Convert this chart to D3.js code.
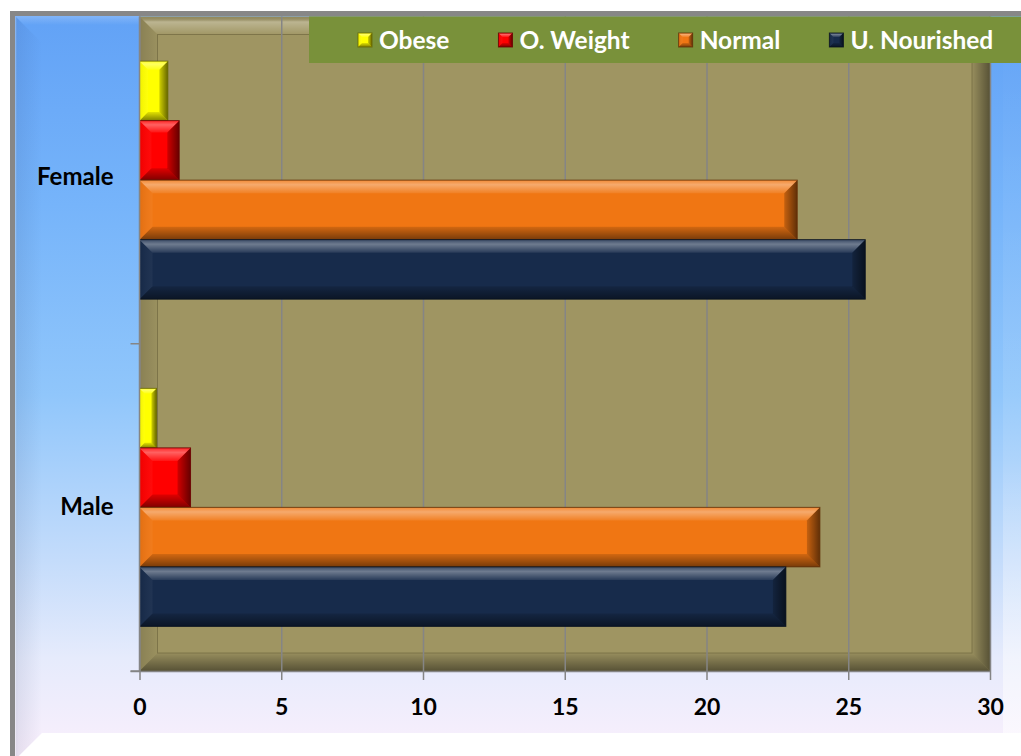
<!DOCTYPE html>
<html>
<head>
<meta charset="utf-8">
<script src="https://cdn.jsdelivr.net/npm/d3@7"></script>
<style>
  html, body { margin: 0; padding: 0; background: #ffffff; }
  svg { display: block; }
  text { font-family: Lato, "Open Sans", sans-serif; font-weight: 700; }
</style>
</head>
<body>
<svg id="chart" width="1021" height="756"></svg>
<script>
// Nutritional status by gender
const categories = ["Female", "Male"];
const seriesNames = ["Obese", "O. Weight", "Normal", "U. Nourished"];
const obese = [1.0, 0.6];
const overWeight = [1.4, 1.8];
const normal = [23.2, 24.0];
const underNourished = [25.6, 22.8];
const seriesColors = ["#ffff00", "#ff0000", "#f07613", "#172b4b"];
const xTicks = [0, 5, 10, 15, 20, 25, 30];

const seriesValues = [obese, overWeight, normal, underNourished];
const rows = categories.map((c, i) => ({
  category: c,
  values: seriesNames.map((s, j) => ({ series: s, value: seriesValues[j][i], color: seriesColors[j] }))
}));

const W = 1021, H = 756;
const plot = { left: 139.5, right: 990, top: 16.5, bottom: 671 };

const svg = d3.select("#chart");
const defs = svg.append("defs");

function linGrad(id, horizontal, stops) {
  const g = defs.append("linearGradient").attr("id", id)
    .attr("x1", 0).attr("y1", 0)
    .attr("x2", horizontal ? 1 : 0).attr("y2", horizontal ? 0 : 1);
  stops.forEach(s => g.append("stop").attr("offset", s[0])
    .attr("stop-color", s[1]).attr("stop-opacity", s[2]));
}

// chart area background
linGrad("bgGrad", false, [
  [0, "#62a2f6", 1], [0.25, "#76b4fa", 1], [0.5, "#90c6fb", 1],
  [0.72, "#c4dcfb", 1], [0.85, "#e6ebfc", 1], [1, "#fdf0fc", 1]
]);
linGrad("bgLeft", true, [[0, "#ffffff", 0.35], [0.1, "#203060", 0.09], [1, "#203060", 0]]);
linGrad("bgTop", false, [[0, "#ffffff", 0.2], [1, "#ffffff", 0]]);
linGrad("bgRight", false, [[0, "#ffffff", 0], [0.6, "#ffffff", 0.1], [1, "#ffffff", 0.6]]);

// plot frame bevel overlays
linGrad("pfTop", false, [[0, "#000000", 0.06], [0.3, "#ffffff", 0.3], [1, "#ffffff", 0.02]]);
linGrad("pfLeft", true, [[0, "#000000", 0.14], [1, "#000000", 0.03]]);
linGrad("pfRight", true, [[0, "#000000", 0.05], [1, "#000000", 0.45]]);
linGrad("pfBottom", false, [[0, "#000000", 0.05], [1, "#000000", 0.45]]);

// bar bevel overlays
linGrad("bTop", false, [[0, "#ffffff", 0.15], [0.35, "#ffffff", 0.38], [1, "#ffffff", 0.08]]);
linGrad("bBottom", false, [[0, "#000000", 0.12], [1, "#000000", 0.5]]);
linGrad("bLeft", true, [[0, "#000000", 0.06], [1, "#ffffff", 0.04]]);
linGrad("bRight", true, [[0, "#000000", 0.18], [1, "#000000", 0.6]]);

function bevelShape(g, x, y, w, h, b, fills) {
  const pts = {
    top: [[x, y], [x + w, y], [x + w - b, y + b], [x + b, y + b]],
    bottom: [[x, y + h], [x + b, y + h - b], [x + w - b, y + h - b], [x + w, y + h]],
    left: [[x, y], [x + b, y + b], [x + b, y + h - b], [x, y + h]],
    right: [[x + w, y], [x + w, y + h], [x + w - b, y + h - b], [x + w - b, y + b]]
  };
  Object.keys(fills).forEach(k => {
    g.append("polygon").attr("points", pts[k].map(p => p.join(",")).join(" "))
      .attr("fill", fills[k]);
  });
}

function bevelBar(g, x, y, w, h, color, bMax) {
  if (w <= 0) return;
  const b = Math.max(0, Math.min(bMax, w * 0.3, h * 0.3));
  g.append("rect").attr("x", x).attr("y", y).attr("width", w).attr("height", h).attr("fill", color);
  bevelShape(g, x, y, w, h, b, {
    left: "url(#bLeft)", top: "url(#bTop)", bottom: "url(#bBottom)", right: "url(#bRight)"
  });
  g.append("rect").attr("x", x).attr("y", y).attr("width", w).attr("height", h)
    .attr("fill", "none").attr("stroke", d3.interpolateRgb(color, "#000")(0.6))
    .attr("stroke-opacity", 0.8).attr("stroke-width", 1);
}

// ---- chart area ----
svg.append("rect").attr("x", 10).attr("y", 11).attr("width", W).attr("height", H).attr("fill", "#878787");
svg.append("rect").attr("x", 15).attr("y", 16).attr("width", W).attr("height", H).attr("fill", "url(#bgGrad)");
svg.append("polygon").attr("points", `15,16 ${W},16 ${W},25 24,25`).attr("fill", "url(#bgTop)");
svg.append("polygon").attr("points", "15,16 42,43 42,733 15,760").attr("fill", "url(#bgLeft)");
svg.append("rect").attr("x", 1003).attr("y", 16).attr("width", 18).attr("height", 740).attr("fill", "url(#bgRight)");
svg.append("polygon").attr("points", `42,733 ${W},733 ${W},760 15,760`).attr("fill", "#ffffff");

// ---- scales ----
const x = d3.scaleLinear().domain([0, 30]).range([plot.left, plot.right]);
const y = d3.scaleBand().domain(categories).range([plot.top, plot.bottom]);
const ySeries = d3.scaleBand().domain(seriesNames).range([0, y.bandwidth()])
  .paddingInner(0).paddingOuter(0.75);

// ---- plot area with beveled frame ----
const pf = svg.append("g");
const pw = plot.right - plot.left, ph = plot.bottom - plot.top, pb = 18;
pf.append("rect").attr("x", plot.left).attr("y", plot.top).attr("width", pw).attr("height", ph).attr("fill", "#9f9562");
bevelShape(pf, plot.left, plot.top, pw, ph, pb, {
  top: "url(#pfTop)", left: "url(#pfLeft)", right: "url(#pfRight)", bottom: "url(#pfBottom)"
});
pf.append("rect").attr("x", plot.left + pb).attr("y", plot.top + pb)
  .attr("width", pw - 2 * pb).attr("height", ph - 2 * pb)
  .attr("fill", "none").attr("stroke", "#6f673f").attr("stroke-opacity", 0.7).attr("stroke-width", 1);

// ---- gridlines ----
svg.append("g").attr("transform", `translate(0,${plot.bottom})`)
  .call(d3.axisBottom(x).tickValues(xTicks).tickSize(-(plot.bottom - plot.top)).tickFormat(""))
  .call(g => g.select(".domain").remove())
  .call(g => g.selectAll(".tick line").attr("stroke", "#858585").attr("stroke-width", 1.5));

// ---- bars ----
const barsG = svg.append("g");
rows.forEach(r => {
  r.values.forEach(v => {
    const y0 = y(r.category) + ySeries(v.series);
    bevelBar(barsG, x(0), y0, x(v.value) - x(0), ySeries.bandwidth(), v.color, 13);
  });
});

// ---- axes ----
const xAxis = svg.append("g").attr("transform", `translate(0,${plot.bottom})`)
  .call(d3.axisBottom(x).tickValues(xTicks).tickSize(9).tickPadding(19).tickSizeOuter(0));
xAxis.select(".domain").attr("stroke", "#858585").attr("stroke-width", 1.5)
  .attr("d", `M${plot.left - 9},0.5H${plot.right}`);
xAxis.selectAll(".tick line").attr("stroke", "#858585").attr("stroke-width", 1.5);
xAxis.selectAll(".tick text").attr("fill", "#000").style("font-size", "23px")
  .style("font-family", "Lato, sans-serif").style("font-weight", 700);

const yAxis = svg.append("g").attr("transform", `translate(${plot.left},0)`)
  .call(d3.axisLeft(y).tickSize(0).tickPadding(26));
yAxis.select(".domain").attr("stroke", "#858585").attr("stroke-width", 1.5)
  .attr("d", `M0,${plot.top}V${plot.bottom}`);
yAxis.selectAll(".tick text").attr("fill", "#000").attr("dy", (d, i) => i === 0 ? "0.22em" : "0.33em")
  .style("font-size", "24px").style("font-family", "Lato, sans-serif").style("font-weight", 700);
// category boundary ticks
const boundaries = categories.slice(1).map(c => y(c)).concat([plot.bottom]);
yAxis.selectAll("line.boundary").data(boundaries).join("line").attr("class", "boundary")
  .attr("x1", -9).attr("x2", 0).attr("y1", d => d).attr("y2", d => d)
  .attr("stroke", "#858585").attr("stroke-width", 1.5);

// ---- legend ----
const legend = svg.append("g");
legend.append("rect").attr("x", 309).attr("y", 16.5).attr("width", W - 309).attr("height", 46.5).attr("fill", "#79913a");
let lx = 358;
seriesNames.forEach((s, i) => {
  const item = legend.append("g");
  bevelBar(item, lx, 33, 14, 14, seriesColors[i], 4);
  const t = item.append("text").attr("x", lx + 21).attr("y", 48.5)
    .attr("fill", "#ffffff").style("font-size", "24.5px").text(s);
  lx += 21 + t.node().getComputedTextLength() + 49;
});
</script>
</body>
</html>
